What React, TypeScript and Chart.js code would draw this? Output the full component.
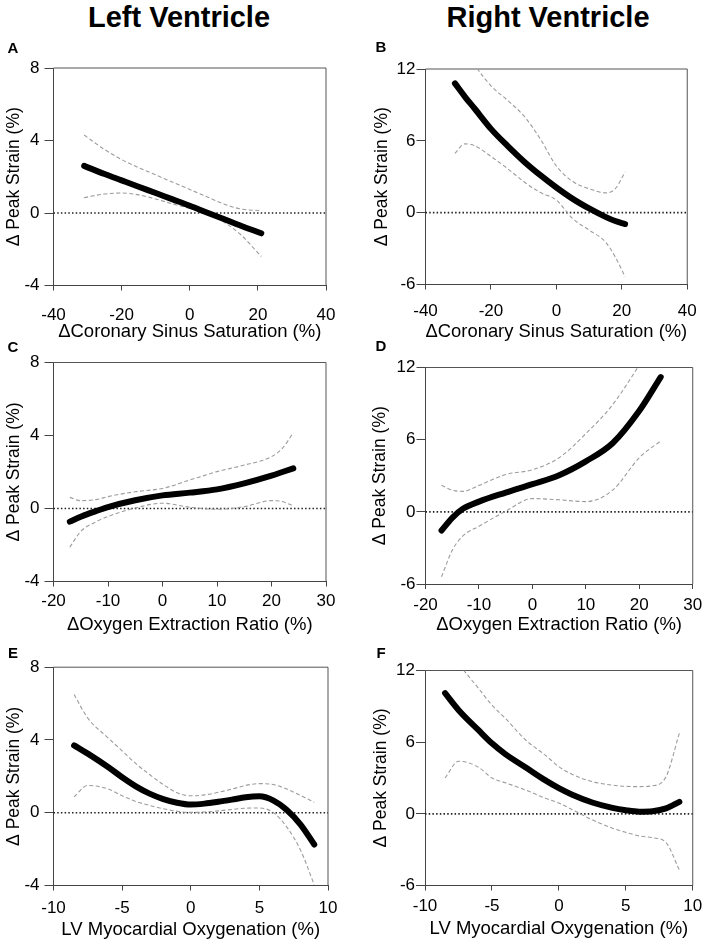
import React, { useEffect, useRef } from 'react';
import { Chart, registerables } from 'chart.js';

Chart.register(...registerables);

// ---------------- data ----------------
// Panel A: LV vs ΔCoronary Sinus Saturation
const aX = [-31, -25, -20, -15, -10, -5, 0, 5, 10, 15, 21];
const aFit = [2.6, 2.15, 1.8, 1.45, 1.1, 0.75, 0.4, 0.03, -0.33, -0.7, -1.12];
const aUpper = [4.3, 3.5, 2.95, 2.5, 2.1, 1.7, 1.3, 0.9, 0.5, 0.22, 0.13];
const aLower = [0.85, 1.05, 1.1, 1.0, 0.77, 0.5, 0.25, -0.02, -0.5, -1.2, -2.4];

// Panel B: RV vs ΔCoronary Sinus Saturation
const bX = [-31, -28, -25, -20, -15, -10, -5, 0, 5, 10, 15, 18, 21];
const bFit = [10.8, 9.7, 8.7, 7.0, 5.6, 4.3, 3.15, 2.1, 1.15, 0.35, -0.35, -0.7, -0.95];
const bUpper = [16.0, 14.0, 12.4, 10.6, 9.4, 8.1, 6.2, 3.9, 2.6, 2.0, 1.65, 2.0, 3.4];
const bLower = [4.95, 5.75, 5.6, 4.7, 3.7, 2.6, 1.7, 1.05, -0.5, -1.45, -2.45, -3.7, -5.35];

// Panel C: LV vs ΔOxygen Extraction Ratio
const cX = [-17, -15, -12, -10, -5, 0, 5, 10, 15, 20, 22, 24];
const cFit = [-0.72, -0.45, -0.12, 0.08, 0.45, 0.72, 0.87, 1.05, 1.38, 1.8, 2.0, 2.2];
const cUpper = [0.61, 0.43, 0.5, 0.65, 0.92, 1.1, 1.56, 2.02, 2.38, 2.84, 3.3, 4.15];
const cLower = [-2.12, -1.26, -0.7, -0.44, 0.03, 0.29, 0.07, -0.04, 0.1, 0.43, 0.38, 0.14];

// Panel D: RV vs ΔOxygen Extraction Ratio
const dX = [-17, -15, -13, -10, -5, 0, 5, 10, 15, 20, 24];
const dFit = [-1.55, -0.5, 0.25, 0.85, 1.6, 2.3, 3.05, 4.2, 5.7, 8.4, 11.2];
const dUpper = [2.2, 1.8, 1.7, 2.2, 3.1, 3.5, 4.5, 6.5, 8.9, 12.2, 15.0];
const dLower = [-5.4, -3.2, -2.0, -1.2, 0.05, 1.1, 1.0, 0.85, 1.8, 4.5, 5.9];

// Panel E: LV vs LV Myocardial Oxygenation
const eX = [-8.5, -7.5, -6, -5, -4, -3, -2, -1, 0, 1, 2, 3, 4, 5, 6, 7, 8, 9];
const eFit = [3.7, 3.25, 2.5, 1.95, 1.45, 1.05, 0.75, 0.55, 0.45, 0.5, 0.6, 0.72, 0.85, 0.9, 0.68, 0.15, -0.65, -1.75];
const eUpper = [6.5, 5.2, 4.1, 3.4, 2.7, 2.1, 1.55, 1.1, 0.93, 0.98, 1.12, 1.3, 1.5, 1.6, 1.55, 1.3, 0.95, 0.57];
const eLower = [0.88, 1.5, 1.3, 0.93, 0.62, 0.4, 0.22, 0.08, 0.02, 0.04, 0.1, 0.18, 0.25, 0.26, 0.02, -0.79, -2.06, -3.96];

// Panel F: RV vs LV Myocardial Oxygenation
const fX = [-8.5, -7.5, -6, -5, -4, -2.5, -1, 0, 1, 2.5, 4, 5, 6, 7, 8, 9];
const fFit = [10.1, 8.7, 7.0, 5.9, 5.0, 3.9, 2.8, 2.15, 1.6, 0.95, 0.5, 0.3, 0.18, 0.22, 0.45, 1.0];
const fUpper = [14.3, 12.6, 10.5, 9.1, 8.0, 6.2, 4.9, 3.95, 3.3, 2.7, 2.4, 2.3, 2.28, 2.35, 3.1, 6.75];
const fLower = [3.0, 4.4, 3.9, 3.0, 2.6, 2.0, 1.3, 0.9, 0.35, -0.5, -1.2, -1.55, -1.85, -2.0, -2.4, -4.7];

// axis ranges / ticks
const lvYRange = [-4, 8];
const lvYStep = 4;
const rvYRange = [-6, 12];
const rvYStep = 6;
const cssXRange = [-40, 40];
const cssXStep = 20;
const oerXRange = [-20, 30];
const oerXStep = 10;
const oxyXRange = [-10, 10];
const oxyXStep = 5;

const yTitle = 'Δ Peak Strain (%)';
const cssTitle = 'ΔCoronary Sinus Saturation (%)';
const oerTitle = 'ΔOxygen Extraction Ratio (%)';
const oxyTitle = 'LV Myocardial Oxygenation (%)';
const headers = ['Left Ventricle', 'Right Ventricle'];
const letters = ['A', 'B', 'C', 'D', 'E', 'F'];

// ---------------- layout ----------------
const FONT = "'Liberation Sans', Arial, Helvetica, sans-serif";
const TICK_SIZE = 17;
const XTITLE_SIZE = 18.5;
const YTITLE_SIZE = 17.5;
const X_TL = 5;
const Y_TL = 9;

type Layout = {
  box: { left: number; top: number; width: number; height: number };
  area: { left: number; right: number; top: number; bottom: number };
  yTitleX: number;
  xTitleY: number;
  xTickY: number;
  yTickRight: number;
  letter: [number, number];
};

type PanelData = {
  xs: number[];
  fit: number[];
  upper: number[];
  lower: number[];
  xRange: number[];
  xStep: number;
  yRange: number[];
  yStep: number;
  xTitle: string;
};

const panels: { data: PanelData; layout: Layout; letter: string }[] = [
  {
    letter: letters[0],
    data: { xs: aX, fit: aFit, upper: aUpper, lower: aLower, xRange: cssXRange, xStep: cssXStep, yRange: lvYRange, yStep: lvYStep, xTitle: cssTitle },
    layout: {
      box: { left: 0, top: 40, width: 352, height: 310 },
      area: { left: 53.5, right: 326, top: 68, bottom: 285.5 },
      yTitleX: 14, xTitleY: 332, xTickY: 315, yTickRight: 39.5, letter: [13, 47],
    },
  },
  {
    letter: letters[1],
    data: { xs: bX, fit: bFit, upper: bUpper, lower: bLower, xRange: cssXRange, xStep: cssXStep, yRange: rvYRange, yStep: rvYStep, xTitle: cssTitle },
    layout: {
      box: { left: 356, top: 40, width: 352, height: 310 },
      area: { left: 425.5, right: 695, top: 69, bottom: 284.5 },
      yTitleX: 382, xTitleY: 332, xTickY: 311, yTickRight: 415.5, letter: [381, 46],
    },
  },
  {
    letter: letters[2],
    data: { xs: cX, fit: cFit, upper: cUpper, lower: cLower, xRange: oerXRange, xStep: oerXStep, yRange: lvYRange, yStep: lvYStep, xTitle: oerTitle },
    layout: {
      box: { left: 0, top: 345, width: 352, height: 305 },
      area: { left: 53.5, right: 326, top: 362.5, bottom: 581.5 },
      yTitleX: 14.5, xTitleY: 625, xTickY: 601.5, yTickRight: 39.5, letter: [13, 346],
    },
  },
  {
    letter: letters[3],
    data: { xs: dX, fit: dFit, upper: dUpper, lower: dLower, xRange: oerXRange, xStep: oerXStep, yRange: rvYRange, yStep: rvYStep, xTitle: oerTitle },
    layout: {
      box: { left: 356, top: 345, width: 352, height: 305 },
      area: { left: 425.5, right: 695, top: 367.5, bottom: 584 },
      yTitleX: 380.5, xTitleY: 625, xTickY: 605, yTickRight: 415.5, letter: [381, 345],
    },
  },
  {
    letter: letters[4],
    data: { xs: eX, fit: eFit, upper: eUpper, lower: eLower, xRange: oxyXRange, xStep: oxyXStep, yRange: lvYRange, yStep: lvYStep, xTitle: oxyTitle },
    layout: {
      box: { left: 0, top: 652, width: 352, height: 293 },
      area: { left: 53.5, right: 328, top: 665, bottom: 885.5 },
      yTitleX: 14, xTitleY: 930, xTickY: 908, yTickRight: 39.5, letter: [13, 652],
    },
  },
  {
    letter: letters[5],
    data: { xs: fX, fit: fFit, upper: fUpper, lower: fLower, xRange: oxyXRange, xStep: oxyXStep, yRange: rvYRange, yStep: rvYStep, xTitle: oxyTitle },
    layout: {
      box: { left: 356, top: 652, width: 352, height: 293 },
      area: { left: 425, right: 694, top: 670.5, bottom: 885.5 },
      yTitleX: 381.5, xTitleY: 929, xTickY: 906.5, yTickRight: 415, letter: [381, 652],
    },
  },
];

const framePlugin = {
  id: 'frame',
  beforeDatasetsDraw(chart: any) {
    const { ctx, chartArea } = chart;
    const { left, right, top, bottom } = chartArea;
    ctx.save();
    ctx.strokeStyle = '#555';
    ctx.lineWidth = 1;
    ctx.beginPath();
    ctx.moveTo(left, top);
    ctx.lineTo(right, top);
    ctx.lineTo(right, bottom);
    ctx.stroke();
    ctx.restore();
  },
};

const pts = (xs: number[], ys: number[]) => xs.map((x, i) => ({ x, y: ys[i] }));

function Panel({ data, layout }: { data: PanelData; layout: Layout }) {
  const ref = useRef<HTMLCanvasElement>(null);
  useEffect(() => {
    if (!ref.current) return;
    const { box, area } = layout;
    const boxBottom = box.top + box.height;
    const xScaleHeight = boxBottom - area.bottom;
    const yScaleWidth = area.left - box.left;
    const xTickPad = layout.xTickY - area.bottom - X_TL - (TICK_SIZE * 1.2) / 2;
    const yTickPad = area.left - Y_TL - layout.yTickRight;
    const xTitlePadBottom = boxBottom - layout.xTitleY - (XTITLE_SIZE * 1.2) / 2;
    const yTitlePadTop = layout.yTitleX - box.left - (YTITLE_SIZE * 1.2) / 2;

    const curve = {
      pointRadius: 0,
      cubicInterpolationMode: 'monotone',
    };

    const chart = new Chart(ref.current, {
      type: 'line',
      data: {
        datasets: [
          {
            ...curve,
            data: pts(data.xs, data.fit),
            borderColor: '#000',
            borderWidth: 6,
            borderCapStyle: 'round',
            borderJoinStyle: 'round',
            order: 0,
          },
          {
            ...curve,
            data: pts(data.xs, data.upper),
            borderColor: '#9c9c9c',
            borderWidth: 1.1,
            borderDash: [4, 2.5],
            order: 1,
          },
          {
            ...curve,
            data: pts(data.xs, data.lower),
            borderColor: '#9c9c9c',
            borderWidth: 1.1,
            borderDash: [4, 2.5],
            order: 2,
          },
          {
            data: [
              { x: data.xRange[0], y: 0 },
              { x: data.xRange[1], y: 0 },
            ],
            borderColor: '#222',
            borderWidth: 1.6,
            borderDash: [1.5, 2.2],
            pointRadius: 0,
            order: 3,
          },
        ],
      } as any,
      options: {
        animation: false,
        responsive: false,
        maintainAspectRatio: false,
        events: [],
        layout: {
          padding: {
            left: 0,
            top: area.top - box.top,
            right: box.left + box.width - area.right,
            bottom: 0,
          },
        },
        plugins: { legend: { display: false }, tooltip: { enabled: false } },
        scales: {
          x: {
            type: 'linear',
            min: data.xRange[0],
            max: data.xRange[1],
            ticks: {
              stepSize: data.xStep,
              autoSkip: false,
              maxRotation: 0,
              padding: xTickPad,
              color: '#000',
              font: { family: FONT, size: TICK_SIZE },
            },
            grid: { drawOnChartArea: false, drawTicks: true, tickLength: X_TL, color: '#444', lineWidth: 1 },
            border: { display: true, color: '#444', width: 1 },
            title: {
              display: true,
              text: data.xTitle,
              color: '#000',
              font: { family: FONT, size: XTITLE_SIZE },
              padding: { top: 0, bottom: xTitlePadBottom },
            },
            afterFit: (s: any) => {
              s.height = xScaleHeight;
            },
          },
          y: {
            type: 'linear',
            min: data.yRange[0],
            max: data.yRange[1],
            ticks: {
              stepSize: data.yStep,
              padding: yTickPad,
              color: '#000',
              font: { family: FONT, size: TICK_SIZE },
            },
            grid: { drawOnChartArea: false, drawTicks: true, tickLength: Y_TL, color: '#444', lineWidth: 1 },
            border: { display: true, color: '#444', width: 1 },
            title: {
              display: true,
              text: yTitle,
              color: '#000',
              font: { family: FONT, size: YTITLE_SIZE },
              padding: { top: yTitlePadTop, bottom: 0 },
            },
            afterFit: (s: any) => {
              s.width = yScaleWidth;
            },
          },
        },
      } as any,
      plugins: [framePlugin],
    });
    return () => chart.destroy();
  }, [data, layout]);

  const { box } = layout;
  return (
    <canvas
      ref={ref}
      width={box.width}
      height={box.height}
      style={{ position: 'absolute', left: box.left, top: box.top, width: box.width, height: box.height }}
    />
  );
}

const centered = (x: number, y: number, size: number, weight: number): React.CSSProperties => ({
  position: 'absolute',
  left: x,
  top: y,
  transform: 'translate(-50%, -50%)',
  fontFamily: FONT,
  fontSize: size,
  fontWeight: weight,
  lineHeight: 1,
  whiteSpace: 'nowrap',
  color: '#000',
});

export default function App() {
  return (
    <div style={{ position: 'absolute', left: 0, top: 0, width: 708, height: 945, background: '#fff', overflow: 'hidden' }}>
      {panels.map((p, i) => (
        <Panel key={i} data={p.data} layout={p.layout} />
      ))}
      <div style={centered(179, 17, 29, 700)}>{headers[0]}</div>
      <div style={centered(548, 17, 29, 700)}>{headers[1]}</div>
      {panels.map((p, i) => (
        <div key={'l' + i} style={centered(p.layout.letter[0], p.layout.letter[1], 15, 700)}>
          {p.letter}
        </div>
      ))}
    </div>
  );
}
